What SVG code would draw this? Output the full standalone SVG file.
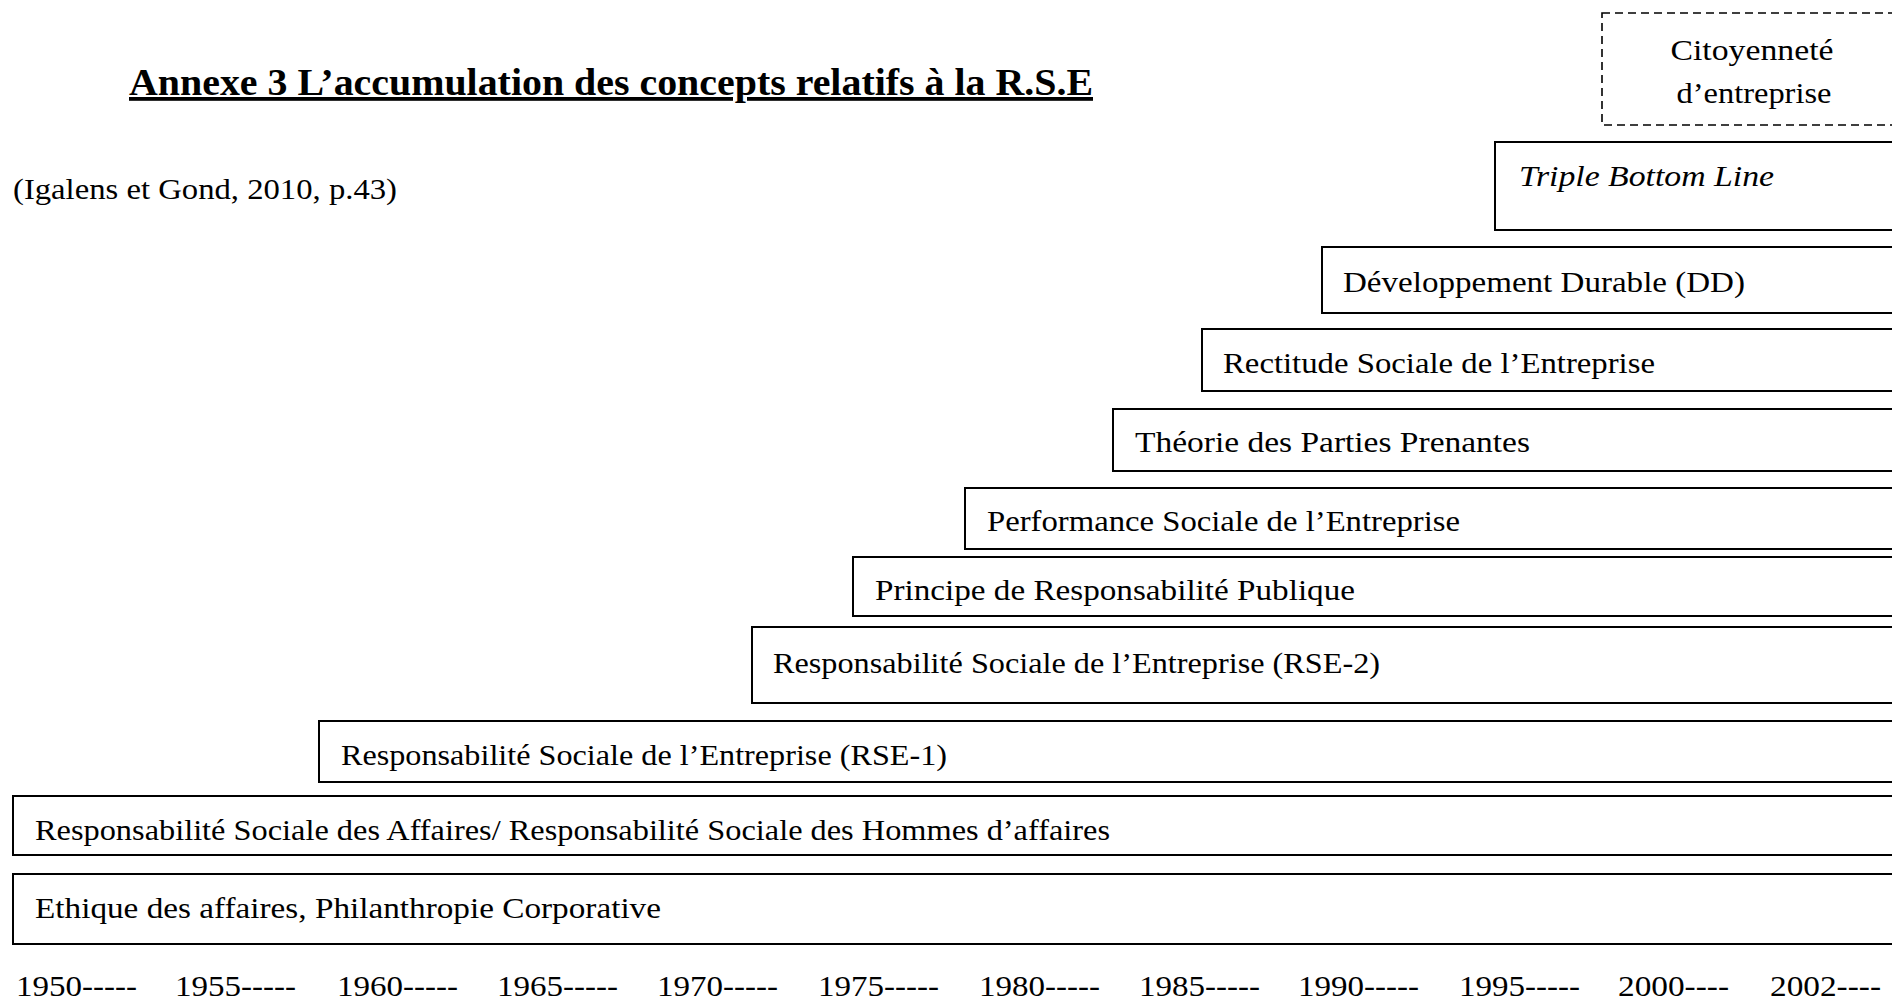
<svg xmlns="http://www.w3.org/2000/svg" width="1892" height="1000" viewBox="0 0 1892 1000">
<style>
text{font-family:"Liberation Serif","DejaVu Serif",serif;fill:#000;font-size:29px}
.box{fill:#fff;stroke:#000;stroke-width:2}
.dash{fill:#fff;stroke:#000;stroke-width:1.6;stroke-dasharray:8 5}
.title{font-size:38px;font-weight:bold;text-decoration:underline}
.yr{font-size:30px}
</style>
<rect width="1892" height="1000" fill="#fff"/>
<text class="title" x="129" y="95" textLength="964" lengthAdjust="spacingAndGlyphs">Annexe 3 L’accumulation des concepts relatifs à la R.S.E</text>
<text x="13" y="199" textLength="384" lengthAdjust="spacingAndGlyphs">(Igalens et Gond, 2010, p.43)</text>

<g id="citoyennete">
<rect class="dash" x="1602" y="13" width="300" height="112"/>
<text x="1752" y="60" text-anchor="middle" textLength="163" lengthAdjust="spacingAndGlyphs">Citoyenneté</text>
<text x="1754" y="103" text-anchor="middle" textLength="155" lengthAdjust="spacingAndGlyphs">d’entreprise</text>
</g>
<g id="tbl">
<rect class="box" x="1495" y="142" width="400" height="88"/>
<text x="1519" y="186" font-style="italic" textLength="255" lengthAdjust="spacingAndGlyphs">Triple Bottom Line</text>
</g>
<g id="dd">
<rect class="box" x="1322" y="247" width="580" height="66"/>
<text x="1343" y="292" textLength="402" lengthAdjust="spacingAndGlyphs">Développement Durable (DD)</text>
</g>
<g id="rectitude">
<rect class="box" x="1202" y="329" width="700" height="62"/>
<text x="1223" y="373" textLength="432" lengthAdjust="spacingAndGlyphs">Rectitude Sociale de l’Entreprise</text>
</g>
<g id="theorie">
<rect class="box" x="1113" y="409" width="790" height="62"/>
<text x="1135" y="452" textLength="395" lengthAdjust="spacingAndGlyphs">Théorie des Parties Prenantes</text>
</g>
<g id="performance">
<rect class="box" x="965" y="488" width="940" height="61"/>
<text x="987" y="531" textLength="473" lengthAdjust="spacingAndGlyphs">Performance Sociale de l’Entreprise</text>
</g>
<g id="principe">
<rect class="box" x="853" y="557" width="1050" height="59"/>
<text x="875" y="600" textLength="480" lengthAdjust="spacingAndGlyphs">Principe de Responsabilité Publique</text>
</g>
<g id="rse2">
<rect class="box" x="752" y="627" width="1150" height="76"/>
<text x="773" y="673" textLength="607" lengthAdjust="spacingAndGlyphs">Responsabilité Sociale de l’Entreprise (RSE-2)</text>
</g>
<g id="rse1">
<rect class="box" x="319" y="721" width="1580" height="61"/>
<text x="341" y="765" textLength="606" lengthAdjust="spacingAndGlyphs">Responsabilité Sociale de l’Entreprise (RSE-1)</text>
</g>
<g id="affaires">
<rect class="box" x="13" y="796" width="1890" height="59"/>
<text x="35" y="840" textLength="1075" lengthAdjust="spacingAndGlyphs">Responsabilité Sociale des Affaires/ Responsabilité Sociale des Hommes d’affaires</text>
</g>
<g id="ethique">
<rect class="box" x="13" y="874" width="1890" height="70"/>
<text x="35" y="918" textLength="626" lengthAdjust="spacingAndGlyphs">Ethique des affaires, Philanthropie Corporative</text>
</g>
<g id="timeline">
<text class="yr" x="16" y="996" textLength="121" lengthAdjust="spacingAndGlyphs">1950-----</text>
<text class="yr" x="175" y="996" textLength="121" lengthAdjust="spacingAndGlyphs">1955-----</text>
<text class="yr" x="337" y="996" textLength="121" lengthAdjust="spacingAndGlyphs">1960-----</text>
<text class="yr" x="497" y="996" textLength="121" lengthAdjust="spacingAndGlyphs">1965-----</text>
<text class="yr" x="657" y="996" textLength="121" lengthAdjust="spacingAndGlyphs">1970-----</text>
<text class="yr" x="818" y="996" textLength="121" lengthAdjust="spacingAndGlyphs">1975-----</text>
<text class="yr" x="979" y="996" textLength="121" lengthAdjust="spacingAndGlyphs">1980-----</text>
<text class="yr" x="1139" y="996" textLength="121" lengthAdjust="spacingAndGlyphs">1985-----</text>
<text class="yr" x="1298" y="996" textLength="121" lengthAdjust="spacingAndGlyphs">1990-----</text>
<text class="yr" x="1459" y="996" textLength="121" lengthAdjust="spacingAndGlyphs">1995-----</text>
<text class="yr" x="1618" y="996" textLength="111" lengthAdjust="spacingAndGlyphs">2000----</text>
<text class="yr" x="1770" y="996" textLength="111" lengthAdjust="spacingAndGlyphs">2002----</text>
</g>
</svg>
